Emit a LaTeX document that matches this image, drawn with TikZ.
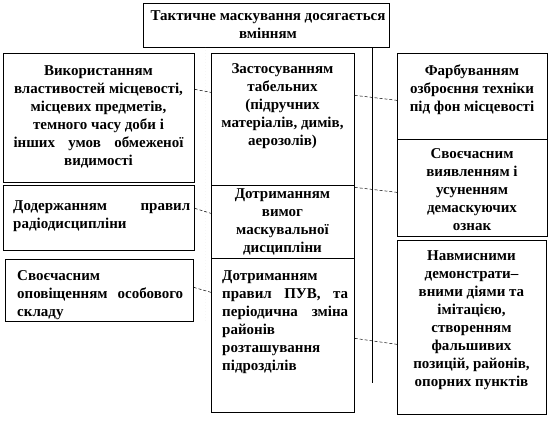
\documentclass[tikz,border=0pt]{standalone}
\usepackage{fontspec}
\setmainfont{Liberation Serif}
\usetikzlibrary{calc}
\begin{document}
\begin{tikzpicture}[x=1pt,y=-1pt,
  box/.style={draw=black,line width=0.7pt,inner sep=0pt,anchor=north west},
  txt/.style={font=\fontsize{15}{18}\selectfont\bfseries,inner sep=0pt,anchor=north,align=center},
  jtxt/.style={font=\fontsize{15}{18}\selectfont\bfseries,inner sep=0pt,anchor=north west,align=left},
  conn/.style={densely dashed,line width=0.5pt},
  lspine/.style={draw=black!75,densely dotted,line width=0.5pt,double=white,double distance=1.2pt},
  rspine/.style={draw=black,line width=0.8pt}]
\useasboundingbox (0,0) rectangle (550,428);
% boxes
\node[box,minimum width=246pt,minimum height=44pt] (top) at (143,3) {};
\node[box,minimum width=191pt,minimum height=129pt] (l1) at (3,53) {};
\node[box,minimum width=191pt,minimum height=65pt] (l2) at (3,185) {};
\node[box,minimum width=188pt,minimum height=62pt] (l3) at (5,259) {};
\node[box,minimum width=143pt,minimum height=132pt] (m1) at (211,53) {};
\node[box,minimum width=143pt,minimum height=73pt] (m2) at (211,185) {};
\node[box,minimum width=143pt,minimum height=154pt] (m3) at (211,258) {};
\node[box,minimum width=150pt,minimum height=86pt] (r1) at (397,53) {};
\node[box,minimum width=150pt,minimum height=97pt] (r2) at (397,139) {};
\node[box,minimum width=149pt,minimum height=174pt] (r3) at (397,240) {};
% texts
\node[txt] (ttop) at (268,10) {Тактичне маскування досягається\\вмінням};
\node[txt] (tl1) at (98.5,65) {Використанням\\властивостей місцевості,\\місцевих предметів,\\темного часу доби і\\\makebox[170pt][s]{інших умов обмеженої}\\видимості};
\node[jtxt,text width=177pt] (tl2) at (13,200) {Додержанням\hfill правил\\радіодисципліни};
\node[jtxt,text width=166pt] (tl3) at (17,270) {Своєчасним\\оповіщенням\hfill особового\\складу};
\node[txt] (tm1) at (282.5,63) {Застосуванням\\табельних\\(підручних\\матеріалів, димів,\\аерозолів)};
\node[txt] (tm2) at (282.5,188) {Дотриманням\\вимог\\маскувальної\\дисципліни};
\node[jtxt,text width=126pt] (tm3) at (222,270) {Дотриманням\\правил\hfill ПУВ,\hfill та\\періодична\hfill зміна\\районів\\розташування\\підрозділів};
\node[txt] (tr1) at (472,65) {Фарбуванням\\озброєння техніки\\під фон місцевості};
\node[txt] (tr2) at (472,148) {Своєчасним\\виявленням і\\усуненням\\демаскуючих\\ознак};
\node[txt] (tr3) at (471.5,250) {Навмисними\\демонстрати–\\вними діями та\\імітацією,\\створенням\\фальшивих\\позицій, районів,\\опорних пунктів};
% spines
\coordinate (lsend) at (205,322);
\coordinate (rsend) at (372,383);
\draw[lspine] (top.south -| lsend) -- (lsend);
\draw[rspine] (top.south -| rsend) -- (rsend);
% connectors
\draw[conn] ([yshift=28.5pt]l1.east) -- ([yshift=27pt]m1.west);
\draw[conn] ([yshift=9.5pt]l2.east) -- ([yshift=8.5pt]m2.west);
\draw[conn] ([yshift=3pt]l3.east) -- ([yshift=43pt]m3.west);
\draw[conn] ([yshift=24pt]m1.east) -- ([yshift=-4pt]r1.west);
\draw[conn] ([yshift=34.5pt]m2.east) -- ([yshift=-4.5pt]r2.west);
\draw[conn] ([yshift=-3pt]m3.east) -- ([yshift=-17pt]r3.west);
\end{tikzpicture}
\end{document}
